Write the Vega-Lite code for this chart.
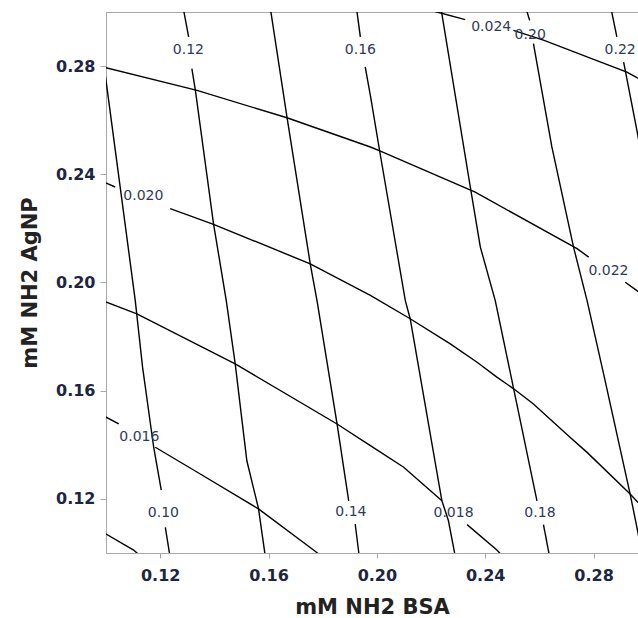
{
  "$schema": "https://vega.github.io/schema/vega-lite/v6.json",
  "width": 532,
  "height": 541,
  "autosize": {"type": "none"},
  "padding": {"left": 106, "top": 12, "right": 0, "bottom": 65},
  "background": "white",
  "config": {
    "view": {"stroke": "#a8a8a8", "strokeWidth": 1},
    "axis": {
      "grid": false,
      "domainColor": "#a8a8a8",
      "tickColor": "#a8a8a8",
      "tickSize": 5,
      "labelFont": "DejaVu Sans",
      "labelFontWeight": "bold",
      "labelFontSize": 16,
      "labelColor": "#1c2541",
      "titleFont": "DejaVu Sans",
      "titleFontWeight": "bold",
      "titleFontSize": 21,
      "titleColor": "#222222"
    }
  },
  "datasets": {
    "lines": [
      {"s": "A10a", "o": 1, "x": 0.0995, "y": 0.2785},
      {"s": "A10a", "o": 2, "x": 0.1059, "y": 0.2303},
      {"s": "A10a", "o": 3, "x": 0.1108, "y": 0.1933},
      {"s": "A10a", "o": 4, "x": 0.1135, "y": 0.1687},
      {"s": "A10a", "o": 5, "x": 0.1176, "y": 0.1391},
      {"s": "A10a", "o": 6, "x": 0.1204, "y": 0.1232},
      {"s": "A10b", "o": 1, "x": 0.1219, "y": 0.1095},
      {"s": "A10b", "o": 2, "x": 0.1235, "y": 0.0995},
      {"s": "A12a", "o": 1, "x": 0.1287, "y": 0.3005},
      {"s": "A12a", "o": 2, "x": 0.1305, "y": 0.2908},
      {"s": "A12b", "o": 1, "x": 0.1317, "y": 0.2791},
      {"s": "A12b", "o": 2, "x": 0.1330, "y": 0.2710},
      {"s": "A12b", "o": 3, "x": 0.1397, "y": 0.2217},
      {"s": "A12b", "o": 4, "x": 0.1444, "y": 0.1933},
      {"s": "A12b", "o": 5, "x": 0.1477, "y": 0.1699},
      {"s": "A12b", "o": 6, "x": 0.1520, "y": 0.1341},
      {"s": "A12b", "o": 7, "x": 0.1563, "y": 0.1164},
      {"s": "A12b", "o": 8, "x": 0.1587, "y": 0.0995},
      {"s": "A14a", "o": 1, "x": 0.1608, "y": 0.3005},
      {"s": "A14a", "o": 2, "x": 0.1668, "y": 0.2612},
      {"s": "A14a", "o": 3, "x": 0.1754, "y": 0.2069},
      {"s": "A14a", "o": 4, "x": 0.1779, "y": 0.1933},
      {"s": "A14a", "o": 5, "x": 0.1853, "y": 0.1477},
      {"s": "A14a", "o": 6, "x": 0.1896, "y": 0.1193},
      {"s": "A14b", "o": 1, "x": 0.1920, "y": 0.1107},
      {"s": "A14b", "o": 2, "x": 0.1934, "y": 0.0995},
      {"s": "A16a", "o": 1, "x": 0.1926, "y": 0.3005},
      {"s": "A16a", "o": 2, "x": 0.1939, "y": 0.2908},
      {"s": "A16b", "o": 1, "x": 0.1957, "y": 0.2797},
      {"s": "A16b", "o": 2, "x": 0.1978, "y": 0.2680},
      {"s": "A16b", "o": 3, "x": 0.2010, "y": 0.2488},
      {"s": "A16b", "o": 4, "x": 0.2105, "y": 0.1933},
      {"s": "A16b", "o": 5, "x": 0.2123, "y": 0.1866},
      {"s": "A16b", "o": 6, "x": 0.2240, "y": 0.1193},
      {"s": "A16b", "o": 7, "x": 0.2264, "y": 0.1120},
      {"s": "A16b", "o": 8, "x": 0.2288, "y": 0.0995},
      {"s": "A18a", "o": 1, "x": 0.2238, "y": 0.3005},
      {"s": "A18a", "o": 2, "x": 0.2345, "y": 0.2353},
      {"s": "A18a", "o": 3, "x": 0.2382, "y": 0.2131},
      {"s": "A18a", "o": 4, "x": 0.2437, "y": 0.1933},
      {"s": "A18a", "o": 5, "x": 0.2505, "y": 0.1607},
      {"s": "A18a", "o": 6, "x": 0.2591, "y": 0.1193},
      {"s": "A18b", "o": 1, "x": 0.2615, "y": 0.1105},
      {"s": "A18b", "o": 2, "x": 0.2636, "y": 0.0995},
      {"s": "A20a", "o": 1, "x": 0.2553, "y": 0.3005},
      {"s": "A20a", "o": 2, "x": 0.2564, "y": 0.2969},
      {"s": "A20b", "o": 1, "x": 0.2578, "y": 0.2883},
      {"s": "A20b", "o": 2, "x": 0.2646, "y": 0.2501},
      {"s": "A20b", "o": 3, "x": 0.2726, "y": 0.2131},
      {"s": "A20b", "o": 4, "x": 0.2776, "y": 0.1933},
      {"s": "A20b", "o": 5, "x": 0.2837, "y": 0.1662},
      {"s": "A20b", "o": 6, "x": 0.2935, "y": 0.1218},
      {"s": "A20b", "o": 7, "x": 0.2960, "y": 0.1095},
      {"s": "A20b", "o": 8, "x": 0.2978, "y": 0.1000},
      {"s": "A22a", "o": 1, "x": 0.2866, "y": 0.3005},
      {"s": "A22a", "o": 2, "x": 0.2886, "y": 0.2908},
      {"s": "A22b", "o": 1, "x": 0.2911, "y": 0.2815},
      {"s": "A22b", "o": 2, "x": 0.2960, "y": 0.2562},
      {"s": "A22b", "o": 3, "x": 0.2975, "y": 0.2480},
      {"s": "B24a", "o": 1, "x": 0.2215, "y": 0.3002},
      {"s": "B24a", "o": 2, "x": 0.2326, "y": 0.2972},
      {"s": "B24b", "o": 1, "x": 0.2504, "y": 0.2932},
      {"s": "B24b", "o": 2, "x": 0.2615, "y": 0.2896},
      {"s": "B24b", "o": 3, "x": 0.2776, "y": 0.2834},
      {"s": "B24b", "o": 4, "x": 0.2923, "y": 0.2778},
      {"s": "B24b", "o": 5, "x": 0.2960, "y": 0.2757},
      {"s": "B24b", "o": 6, "x": 0.2995, "y": 0.2743},
      {"s": "B22a", "o": 1, "x": 0.0995, "y": 0.2795},
      {"s": "B22a", "o": 2, "x": 0.1336, "y": 0.2710},
      {"s": "B22a", "o": 3, "x": 0.1668, "y": 0.2609},
      {"s": "B22a", "o": 4, "x": 0.1976, "y": 0.2501},
      {"s": "B22a", "o": 5, "x": 0.2013, "y": 0.2486},
      {"s": "B22a", "o": 6, "x": 0.2363, "y": 0.2334},
      {"s": "B22a", "o": 7, "x": 0.2739, "y": 0.2125},
      {"s": "B22a", "o": 8, "x": 0.2782, "y": 0.2094},
      {"s": "B22b", "o": 1, "x": 0.2917, "y": 0.2001},
      {"s": "B22b", "o": 2, "x": 0.2960, "y": 0.1970},
      {"s": "B22b", "o": 3, "x": 0.2995, "y": 0.1946},
      {"s": "B20a", "o": 1, "x": 0.0995, "y": 0.2370},
      {"s": "B20a", "o": 2, "x": 0.1034, "y": 0.2353},
      {"s": "B20b", "o": 1, "x": 0.1237, "y": 0.2273},
      {"s": "B20b", "o": 2, "x": 0.1397, "y": 0.2215},
      {"s": "B20b", "o": 3, "x": 0.1754, "y": 0.2069},
      {"s": "B20b", "o": 4, "x": 0.1976, "y": 0.1952},
      {"s": "B20b", "o": 5, "x": 0.2123, "y": 0.1866},
      {"s": "B20b", "o": 6, "x": 0.2271, "y": 0.1773},
      {"s": "B20b", "o": 7, "x": 0.2370, "y": 0.1705},
      {"s": "B20b", "o": 8, "x": 0.2443, "y": 0.1650},
      {"s": "B20b", "o": 9, "x": 0.2505, "y": 0.1607},
      {"s": "B20b", "o": 10, "x": 0.2578, "y": 0.1551},
      {"s": "B20b", "o": 11, "x": 0.2713, "y": 0.1428},
      {"s": "B20b", "o": 12, "x": 0.2776, "y": 0.1372},
      {"s": "B20b", "o": 13, "x": 0.2935, "y": 0.1218},
      {"s": "B20b", "o": 14, "x": 0.2964, "y": 0.1187},
      {"s": "B20b", "o": 15, "x": 0.2995, "y": 0.1160},
      {"s": "B18a", "o": 1, "x": 0.0995, "y": 0.1930},
      {"s": "B18a", "o": 2, "x": 0.1114, "y": 0.1884},
      {"s": "B18a", "o": 3, "x": 0.1477, "y": 0.1699},
      {"s": "B18a", "o": 4, "x": 0.1853, "y": 0.1477},
      {"s": "B18a", "o": 5, "x": 0.1976, "y": 0.1397},
      {"s": "B18a", "o": 6, "x": 0.2099, "y": 0.1317},
      {"s": "B18a", "o": 7, "x": 0.2240, "y": 0.1193},
      {"s": "B18b", "o": 1, "x": 0.2333, "y": 0.1105},
      {"s": "B18b", "o": 2, "x": 0.2443, "y": 0.1011},
      {"s": "B18b", "o": 3, "x": 0.2458, "y": 0.0995},
      {"s": "B16a", "o": 1, "x": 0.0995, "y": 0.1505},
      {"s": "B16a", "o": 2, "x": 0.1047, "y": 0.1477},
      {"s": "B16b", "o": 1, "x": 0.1182, "y": 0.1391},
      {"s": "B16b", "o": 2, "x": 0.1348, "y": 0.1292},
      {"s": "B16b", "o": 3, "x": 0.1563, "y": 0.1163},
      {"s": "B16b", "o": 4, "x": 0.1766, "y": 0.1011},
      {"s": "B16b", "o": 5, "x": 0.1787, "y": 0.0995},
      {"s": "B14a", "o": 1, "x": 0.0995, "y": 0.1073},
      {"s": "B14a", "o": 2, "x": 0.1102, "y": 0.1011},
      {"s": "B14a", "o": 3, "x": 0.1120, "y": 0.0995}
    ],
    "labels": [
      {"t": "0.10", "x": 0.1212, "y": 0.1149},
      {"t": "0.12", "x": 0.1304, "y": 0.2858},
      {"t": "0.14", "x": 0.1904, "y": 0.1150},
      {"t": "0.16", "x": 0.1939, "y": 0.2858},
      {"t": "0.18", "x": 0.2602, "y": 0.1149},
      {"t": "0.20", "x": 0.2566, "y": 0.2914},
      {"t": "0.22", "x": 0.2898, "y": 0.2858},
      {"t": "0.024", "x": 0.2422, "y": 0.2943},
      {"t": "0.022", "x": 0.2855, "y": 0.2044},
      {"t": "0.020", "x": 0.1138, "y": 0.2318},
      {"t": "0.018", "x": 0.2283, "y": 0.1148},
      {"t": "0.016", "x": 0.1123, "y": 0.1428}
    ]
  },
  "encoding": {
    "x": {
      "field": "x",
      "type": "quantitative",
      "scale": {"domain": [0.1, 0.2964], "nice": false, "zero": false},
      "axis": {
        "values": [0.12, 0.16, 0.2, 0.24, 0.28],
        "format": ".2f",
        "title": "mM NH2 BSA",
        "labelPadding": 9,
        "titlePadding": 13
      }
    },
    "y": {
      "field": "y",
      "type": "quantitative",
      "scale": {"domain": [0.1, 0.3], "nice": false, "zero": false},
      "axis": {
        "values": [0.12, 0.16, 0.2, 0.24, 0.28],
        "format": ".2f",
        "title": "mM NH2 AgNP",
        "tickSize": 6,
        "labelPadding": 5,
        "titlePadding": 15
      }
    }
  },
  "layer": [
    {
      "data": {"name": "lines"},
      "mark": {"type": "line", "color": "black", "strokeWidth": 1.4, "clip": true},
      "encoding": {
        "detail": {"field": "s", "type": "nominal"},
        "order": {"field": "o", "type": "quantitative"}
      }
    },
    {
      "data": {"name": "labels"},
      "mark": {"type": "text", "font": "DejaVu Sans", "fontSize": 14, "color": "#2f3b58", "align": "center", "baseline": "middle"},
      "encoding": {
        "text": {"field": "t", "type": "nominal"}
      }
    }
  ]
}
